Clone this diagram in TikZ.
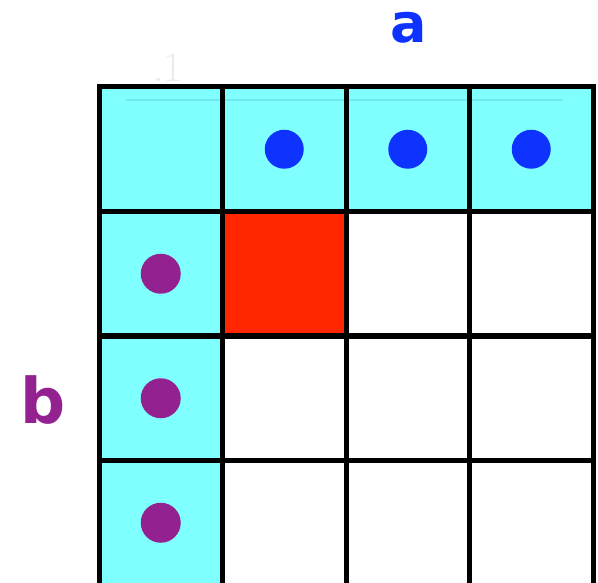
\documentclass[tikz,border=0pt]{standalone}
\usepackage{fontspec}
\newfontfamily\labelfont{DejaVu Sans}
\usetikzlibrary{positioning}
\definecolor{headc}{RGB}{128,255,255}
\definecolor{ac}{RGB}{15,51,255}
\definecolor{bc}{RGB}{147,34,144}
\definecolor{hitc}{RGB}{255,38,0}
\definecolor{ghostc}{RGB}{236,236,236}
\definecolor{ghostlc}{RGB}{112,234,240}
\tikzset{
  cell/.style     = {minimum width=123.5pt, minimum height=124.5pt, inner sep=0pt, outer sep=0pt, anchor=north west},
  head/.style     = {cell, fill=headc},
  hit/.style      = {cell, fill=hitc},
  gridline/.style = {draw=black, line width=5pt},
  adot/.style     = {circle, fill=ac, minimum size=39pt, inner sep=0pt},
  bdot/.style     = {circle, fill=bc, minimum size=40pt, inner sep=0pt},
  vlbl/.style     = {font=\labelfont\bfseries, anchor=base, inner sep=0pt},
}

\begin{document}
\begin{tikzpicture}[x=1pt, y=-1pt]
\useasboundingbox (0,0) rectangle (598,583);

% cells of the table
\foreach \i in {0,...,3}
  \foreach \j in {0,...,3}
    \node[cell] (c\i\j) at ({99+123.5*\i},{87+124.5*\j}) {};
\foreach \i in {0,...,3}
  \node[head] at (c\i0.north west) {};
\foreach \j in {1,2,3}
  \node[head] at (c0\j.north west) {};
\node[hit] at (c11.north west) {};

% faint leftovers
\draw[ghostlc, line width=1.5pt] (126,100) -- (563,100);
\node[font=\fontsize{42}{42}\selectfont, text=ghostc, anchor=base, inner sep=0pt] (ghost) at (168,82) {.1};

% grid
\foreach \i in {0,...,3}
  \foreach \j in {0,...,3}
    \draw[gridline] (c\i\j.north west) rectangle (c\i\j.south east);

% values of a and b
\foreach \i in {1,2,3}
  \node[adot] (a\i) at (c\i0.center) {};
\foreach \j in {1,2,3}
  \node[bdot] (b\j) at (c0\j.center) {};

\node[vlbl, text=ac, font=\labelfont\bfseries\fontsize{54}{54}\selectfont] (alabel) at (409,43) {a};
\node[vlbl, text=bc, font=\labelfont\bfseries\fontsize{63}{63}\selectfont] (blabel) at (43,423) {b};

\end{tikzpicture}
\end{document}
